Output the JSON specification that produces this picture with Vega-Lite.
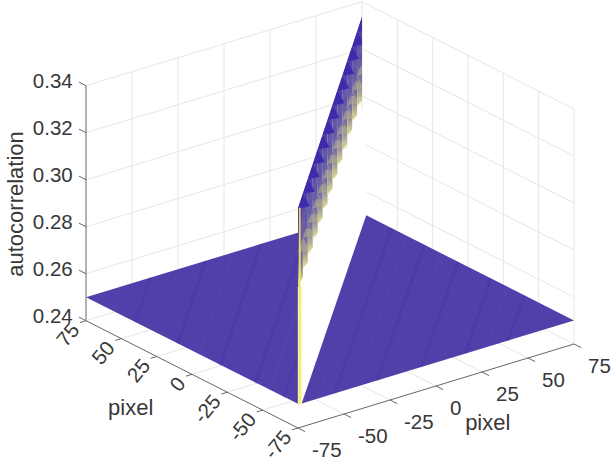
{"$schema":"https://vega.github.io/schema/vega-lite/v6.json","width":613,"height":468,"autosize":{"type":"fit","contains":"padding"},"padding":0,"background":"white","config":{"view":{"stroke":null}},
"data":{"values":[
{"p":"grid","a":75,"b":-50,"z":0.24,"a2":75,"b2":-50,"z2":0.34},{"p":"grid","a":75,"b":-25,"z":0.24,"a2":75,"b2":-25,"z2":0.34},{"p":"grid","a":75,"b":0,"z":0.24,"a2":75,"b2":0,"z2":0.34},{"p":"grid","a":75,"b":25,"z":0.24,"a2":75,"b2":25,"z2":0.34},{"p":"grid","a":75,"b":50,"z":0.24,"a2":75,"b2":50,"z2":0.34},{"p":"grid","a":75,"b":75,"z":0.24,"a2":75,"b2":75,"z2":0.34},
{"p":"grid","a":50,"b":75,"z":0.24,"a2":50,"b2":75,"z2":0.34},{"p":"grid","a":25,"b":75,"z":0.24,"a2":25,"b2":75,"z2":0.34},{"p":"grid","a":0,"b":75,"z":0.24,"a2":0,"b2":75,"z2":0.34},{"p":"grid","a":-25,"b":75,"z":0.24,"a2":-25,"b2":75,"z2":0.34},{"p":"grid","a":-50,"b":75,"z":0.24,"a2":-50,"b2":75,"z2":0.34},{"p":"grid","a":-75,"b":75,"z":0.24,"a2":-75,"b2":75,"z2":0.34},
{"p":"grid","a":75,"b":-75,"z":0.24,"a2":75,"b2":75,"z2":0.24},{"p":"grid","a":75,"b":-75,"z":0.26,"a2":75,"b2":75,"z2":0.26},{"p":"grid","a":75,"b":-75,"z":0.28,"a2":75,"b2":75,"z2":0.28},{"p":"grid","a":75,"b":-75,"z":0.30,"a2":75,"b2":75,"z2":0.30},{"p":"grid","a":75,"b":-75,"z":0.32,"a2":75,"b2":75,"z2":0.32},{"p":"grid","a":75,"b":-75,"z":0.34,"a2":75,"b2":75,"z2":0.34},
{"p":"grid","a":75,"b":75,"z":0.24,"a2":-75,"b2":75,"z2":0.24},{"p":"grid","a":75,"b":75,"z":0.26,"a2":-75,"b2":75,"z2":0.26},{"p":"grid","a":75,"b":75,"z":0.28,"a2":-75,"b2":75,"z2":0.28},{"p":"grid","a":75,"b":75,"z":0.30,"a2":-75,"b2":75,"z2":0.30},{"p":"grid","a":75,"b":75,"z":0.32,"a2":-75,"b2":75,"z2":0.32},{"p":"grid","a":75,"b":75,"z":0.34,"a2":-75,"b2":75,"z2":0.34},
{"p":"grid","a":50,"b":-75,"z":0.24,"a2":50,"b2":75,"z2":0.24},{"p":"grid","a":25,"b":-75,"z":0.24,"a2":25,"b2":75,"z2":0.24},{"p":"grid","a":0,"b":-75,"z":0.24,"a2":0,"b2":75,"z2":0.24},{"p":"grid","a":-25,"b":-75,"z":0.24,"a2":-25,"b2":75,"z2":0.24},{"p":"grid","a":-50,"b":-75,"z":0.24,"a2":-50,"b2":75,"z2":0.24},
{"p":"grid","a":-75,"b":-50,"z":0.24,"a2":75,"b2":-50,"z2":0.24},{"p":"grid","a":-75,"b":-25,"z":0.24,"a2":75,"b2":-25,"z2":0.24},{"p":"grid","a":-75,"b":0,"z":0.24,"a2":75,"b2":0,"z2":0.24},{"p":"grid","a":-75,"b":25,"z":0.24,"a2":75,"b2":25,"z2":0.24},{"p":"grid","a":-75,"b":50,"z":0.24,"a2":75,"b2":50,"z2":0.24},
{"p":"white","g":"w","a":-75,"b":-75,"z":0.30,"a2":-75,"b2":-75,"z2":0.25},{"p":"white","g":"w","a":72,"b":75,"z":0.30,"a2":72,"b2":75,"z2":0.25},
{"p":"surf","g":"L","a":75,"b":-75,"z":0.25,"a2":75,"b2":-75,"z2":0.25},{"p":"surf","g":"L","a":75,"b":41,"z":0.25,"a2":-75,"b2":-75,"z2":0.25},
{"p":"surf","g":"R","a":-75,"b":-73,"z":0.25,"a2":-75,"b2":-73,"z2":0.25},{"p":"surf","g":"R","a":72,"b":75,"z":0.25,"a2":-75,"b2":-37.9,"z2":0.25},{"p":"surf","g":"R","a":-75,"b":75,"z":0.25,"a2":-75,"b2":75,"z2":0.25},
{"p":"sd","a":-65,"b":-75,"z":0.25,"a2":-32,"b2":-42,"z2":0.25},{"p":"sl","a":-55,"b":-75,"z":0.25,"a2":11,"b2":-9,"z2":0.25},{"p":"sd","a":-45,"b":-75,"z":0.25,"a2":54,"b2":24,"z2":0.25},{"p":"sl","a":-33,"b":-75,"z":0.25,"a2":75,"b2":33,"z2":0.25},{"p":"sd","a":-20,"b":-75,"z":0.25,"a2":75,"b2":20,"z2":0.25},{"p":"sl","a":-5,"b":-75,"z":0.25,"a2":75,"b2":5,"z2":0.25},{"p":"sd","a":10,"b":-75,"z":0.25,"a2":75,"b2":-10,"z2":0.25},{"p":"sl","a":25,"b":-75,"z":0.25,"a2":75,"b2":-25,"z2":0.25},{"p":"sd","a":40,"b":-75,"z":0.25,"a2":75,"b2":-40,"z2":0.25},{"p":"sl","a":55,"b":-75,"z":0.25,"a2":75,"b2":-55,"z2":0.25},
{"p":"sl","a":-75,"b":-64,"z":0.25,"a2":63,"b2":75,"z2":0.25},{"p":"sd","a":-75,"b":-55,"z":0.25,"a2":54,"b2":75,"z2":0.25},{"p":"sl","a":-75,"b":-43,"z":0.25,"a2":43,"b2":75,"z2":0.25},{"p":"sd","a":-75,"b":-32,"z":0.25,"a2":31,"b2":75,"z2":0.25},{"p":"sl","a":-75,"b":-20,"z":0.25,"a2":19,"b2":75,"z2":0.25},{"p":"sd","a":-75,"b":-8,"z":0.25,"a2":7,"b2":75,"z2":0.25},{"p":"sl","a":-75,"b":4,"z":0.25,"a2":-4,"b2":75,"z2":0.25},{"p":"sd","a":-75,"b":16,"z":0.25,"a2":-16,"b2":75,"z2":0.25},{"p":"sl","a":-75,"b":28,"z":0.25,"a2":-28,"b2":75,"z2":0.25},{"p":"sd","a":-75,"b":39,"z":0.25,"a2":-40,"b2":75,"z2":0.25},{"p":"sl","a":-75,"b":51,"z":0.25,"a2":-51,"b2":75,"z2":0.25},
{"p":"tooth","g":"t0","a":-75,"b":-75,"z":0.3335,"z2":0.3000,"a2":-75,"b2":-75},{"p":"tooth","g":"t0","a":-63.5,"b":-63.5,"z":0.3335,"z2":0.298,"a2":-63.5,"b2":-63.5},
{"p":"tooth","g":"t1","a":-63.5,"b":-63.5,"z":0.3335,"z2":0.3015,"a2":-63.5,"b2":-63.5},{"p":"tooth","g":"t1","a":-52,"b":-52,"z":0.3335,"z2":0.298,"a2":-52,"b2":-52},
{"p":"tooth","g":"t2","a":-52,"b":-52,"z":0.3335,"z2":0.3015,"a2":-52,"b2":-52},{"p":"tooth","g":"t2","a":-40.4,"b":-40.4,"z":0.3335,"z2":0.298,"a2":-40.4,"b2":-40.4},
{"p":"tooth","g":"t3","a":-40.4,"b":-40.4,"z":0.3335,"z2":0.3015,"a2":-40.4,"b2":-40.4},{"p":"tooth","g":"t3","a":-28.8,"b":-28.8,"z":0.3335,"z2":0.298,"a2":-28.8,"b2":-28.8},
{"p":"tooth","g":"t4","a":-28.8,"b":-28.8,"z":0.3335,"z2":0.3015,"a2":-28.8,"b2":-28.8},{"p":"tooth","g":"t4","a":-17.3,"b":-17.3,"z":0.3335,"z2":0.298,"a2":-17.3,"b2":-17.3},
{"p":"tooth","g":"t5","a":-17.3,"b":-17.3,"z":0.3335,"z2":0.3015,"a2":-17.3,"b2":-17.3},{"p":"tooth","g":"t5","a":-5.8,"b":-5.8,"z":0.3335,"z2":0.298,"a2":-5.8,"b2":-5.8},
{"p":"tooth","g":"t6","a":-5.8,"b":-5.8,"z":0.3335,"z2":0.3015,"a2":-5.8,"b2":-5.8},{"p":"tooth","g":"t6","a":5.8,"b":5.8,"z":0.3335,"z2":0.298,"a2":5.8,"b2":5.8},
{"p":"tooth","g":"t7","a":5.8,"b":5.8,"z":0.3335,"z2":0.3015,"a2":5.8,"b2":5.8},{"p":"tooth","g":"t7","a":17.3,"b":17.3,"z":0.3335,"z2":0.298,"a2":17.3,"b2":17.3},
{"p":"tooth","g":"t8","a":17.3,"b":17.3,"z":0.3335,"z2":0.3015,"a2":17.3,"b2":17.3},{"p":"tooth","g":"t8","a":28.8,"b":28.8,"z":0.3335,"z2":0.298,"a2":28.8,"b2":28.8},
{"p":"tooth","g":"t9","a":28.8,"b":28.8,"z":0.3335,"z2":0.3015,"a2":28.8,"b2":28.8},{"p":"tooth","g":"t9","a":40.4,"b":40.4,"z":0.3335,"z2":0.298,"a2":40.4,"b2":40.4},
{"p":"tooth","g":"t10","a":40.4,"b":40.4,"z":0.3335,"z2":0.3015,"a2":40.4,"b2":40.4},{"p":"tooth","g":"t10","a":51.9,"b":51.9,"z":0.3335,"z2":0.298,"a2":51.9,"b2":51.9},
{"p":"tooth","g":"t11","a":51.9,"b":51.9,"z":0.3335,"z2":0.3015,"a2":51.9,"b2":51.9},{"p":"tooth","g":"t11","a":63.5,"b":63.5,"z":0.3335,"z2":0.298,"a2":63.5,"b2":63.5},
{"p":"tooth","g":"t12","a":63.5,"b":63.5,"z":0.3335,"z2":0.3015,"a2":63.5,"b2":63.5},{"p":"tooth","g":"t12","a":75,"b":75,"z":0.3335,"z2":0.298,"a2":75,"b2":75},
{"p":"dark","g":"d0","a":-75,"b":-75,"z":0.3335,"z2":0.3335,"a2":-75,"b2":-75},{"p":"dark","g":"d0","a":-63.5,"b":-63.5,"z":0.3335,"z2":0.3276,"a2":-63.5,"b2":-63.5},{"p":"dark","g":"d0","a":-47,"b":-47,"z":0.3192,"z2":0.3192,"a2":-47,"b2":-47},
{"p":"dark","g":"d1","a":-63.5,"b":-63.5,"z":0.3335,"z2":0.3335,"a2":-63.5,"b2":-63.5},{"p":"dark","g":"d1","a":-52,"b":-52,"z":0.3335,"z2":0.3276,"a2":-52,"b2":-52},{"p":"dark","g":"d1","a":-35.5,"b":-35.5,"z":0.3192,"z2":0.3192,"a2":-35.5,"b2":-35.5},
{"p":"dark","g":"d2","a":-52,"b":-52,"z":0.3335,"z2":0.3335,"a2":-52,"b2":-52},{"p":"dark","g":"d2","a":-40.4,"b":-40.4,"z":0.3335,"z2":0.3276,"a2":-40.4,"b2":-40.4},{"p":"dark","g":"d2","a":-24,"b":-24,"z":0.3192,"z2":0.3192,"a2":-24,"b2":-24},
{"p":"dark","g":"d3","a":-40.4,"b":-40.4,"z":0.3335,"z2":0.3335,"a2":-40.4,"b2":-40.4},{"p":"dark","g":"d3","a":-28.8,"b":-28.8,"z":0.3335,"z2":0.3276,"a2":-28.8,"b2":-28.8},{"p":"dark","g":"d3","a":-12.4,"b":-12.4,"z":0.3192,"z2":0.3192,"a2":-12.4,"b2":-12.4},
{"p":"dark","g":"d4","a":-28.8,"b":-28.8,"z":0.3335,"z2":0.3335,"a2":-28.8,"b2":-28.8},{"p":"dark","g":"d4","a":-17.3,"b":-17.3,"z":0.3335,"z2":0.3276,"a2":-17.3,"b2":-17.3},{"p":"dark","g":"d4","a":-0.8,"b":-0.8,"z":0.3192,"z2":0.3192,"a2":-0.8,"b2":-0.8},
{"p":"dark","g":"d5","a":-17.3,"b":-17.3,"z":0.3335,"z2":0.3335,"a2":-17.3,"b2":-17.3},{"p":"dark","g":"d5","a":-5.8,"b":-5.8,"z":0.3335,"z2":0.3276,"a2":-5.8,"b2":-5.8},{"p":"dark","g":"d5","a":10.7,"b":10.7,"z":0.3192,"z2":0.3192,"a2":10.7,"b2":10.7},
{"p":"dark","g":"d6","a":-5.8,"b":-5.8,"z":0.3335,"z2":0.3335,"a2":-5.8,"b2":-5.8},{"p":"dark","g":"d6","a":5.8,"b":5.8,"z":0.3335,"z2":0.3276,"a2":5.8,"b2":5.8},{"p":"dark","g":"d6","a":22.2,"b":22.2,"z":0.3192,"z2":0.3192,"a2":22.2,"b2":22.2},
{"p":"dark","g":"d7","a":5.8,"b":5.8,"z":0.3335,"z2":0.3335,"a2":5.8,"b2":5.8},{"p":"dark","g":"d7","a":17.3,"b":17.3,"z":0.3335,"z2":0.3276,"a2":17.3,"b2":17.3},{"p":"dark","g":"d7","a":33.8,"b":33.8,"z":0.3192,"z2":0.3192,"a2":33.8,"b2":33.8},
{"p":"dark","g":"d8","a":17.3,"b":17.3,"z":0.3335,"z2":0.3335,"a2":17.3,"b2":17.3},{"p":"dark","g":"d8","a":28.8,"b":28.8,"z":0.3335,"z2":0.3276,"a2":28.8,"b2":28.8},{"p":"dark","g":"d8","a":45.3,"b":45.3,"z":0.3192,"z2":0.3192,"a2":45.3,"b2":45.3},
{"p":"dark","g":"d9","a":28.8,"b":28.8,"z":0.3335,"z2":0.3335,"a2":28.8,"b2":28.8},{"p":"dark","g":"d9","a":40.4,"b":40.4,"z":0.3335,"z2":0.3276,"a2":40.4,"b2":40.4},{"p":"dark","g":"d9","a":56.8,"b":56.8,"z":0.3192,"z2":0.3192,"a2":56.8,"b2":56.8},
{"p":"dark","g":"d10","a":40.4,"b":40.4,"z":0.3335,"z2":0.3335,"a2":40.4,"b2":40.4},{"p":"dark","g":"d10","a":51.9,"b":51.9,"z":0.3335,"z2":0.3276,"a2":51.9,"b2":51.9},{"p":"dark","g":"d10","a":68.4,"b":68.4,"z":0.3192,"z2":0.3192,"a2":68.4,"b2":68.4},
{"p":"dark","g":"d11","a":51.9,"b":51.9,"z":0.3335,"z2":0.3335,"a2":51.9,"b2":51.9},{"p":"dark","g":"d11","a":63.5,"b":63.5,"z":0.3335,"z2":0.3276,"a2":63.5,"b2":63.5},{"p":"dark","g":"d11","a":75,"b":75,"z":0.3235,"z2":0.3217,"a2":75,"b2":75},
{"p":"dark","g":"d12","a":63.5,"b":63.5,"z":0.3335,"z2":0.3335,"a2":63.5,"b2":63.5},{"p":"dark","g":"d12","a":75,"b":75,"z":0.3335,"z2":0.3276,"a2":75,"b2":75},
{"p":"pale","a":-75,"b":-74,"z":0.25,"a2":-75,"b2":-74,"z2":0.30},
{"p":"yellow","a":-75,"b":-74,"z":0.25,"a2":-75,"b2":-74,"z2":0.3335},
{"p":"axis","a":75,"b":-75,"z":0.24,"a2":75,"b2":-75,"z2":0.34},{"p":"axis","a":75,"b":-75,"z":0.24,"a2":-75,"b2":-75,"z2":0.24},{"p":"axis","a":-75,"b":-75,"z":0.24,"a2":-75,"b2":75,"z2":0.24},
{"p":"axis","a":75,"b":-75,"z":0.24,"a2":80,"b2":-75,"z2":0.24},{"p":"axis","a":75,"b":-75,"z":0.26,"a2":80,"b2":-75,"z2":0.26},{"p":"axis","a":75,"b":-75,"z":0.28,"a2":80,"b2":-75,"z2":0.28},{"p":"axis","a":75,"b":-75,"z":0.30,"a2":80,"b2":-75,"z2":0.30},{"p":"axis","a":75,"b":-75,"z":0.32,"a2":80,"b2":-75,"z2":0.32},{"p":"axis","a":75,"b":-75,"z":0.34,"a2":80,"b2":-75,"z2":0.34},
{"p":"axis","a":75,"b":-75,"z":0.24,"a2":75,"b2":-78.3,"z2":0.24},{"p":"axis","a":50,"b":-75,"z":0.24,"a2":50,"b2":-78.3,"z2":0.24},{"p":"axis","a":25,"b":-75,"z":0.24,"a2":25,"b2":-78.3,"z2":0.24},{"p":"axis","a":0,"b":-75,"z":0.24,"a2":0,"b2":-78.3,"z2":0.24},{"p":"axis","a":-25,"b":-75,"z":0.24,"a2":-25,"b2":-78.3,"z2":0.24},{"p":"axis","a":-50,"b":-75,"z":0.24,"a2":-50,"b2":-78.3,"z2":0.24},{"p":"axis","a":-75,"b":-75,"z":0.24,"a2":-75,"b2":-78.3,"z2":0.24},
{"p":"axis","a":-75,"b":-75,"z":0.24,"a2":-80,"b2":-75,"z2":0.24},{"p":"axis","a":-75,"b":-50,"z":0.24,"a2":-80,"b2":-50,"z2":0.24},{"p":"axis","a":-75,"b":-25,"z":0.24,"a2":-80,"b2":-25,"z2":0.24},{"p":"axis","a":-75,"b":0,"z":0.24,"a2":-80,"b2":0,"z2":0.24},{"p":"axis","a":-75,"b":25,"z":0.24,"a2":-80,"b2":25,"z2":0.24},{"p":"axis","a":-75,"b":50,"z":0.24,"a2":-80,"b2":50,"z2":0.24},{"p":"axis","a":-75,"b":75,"z":0.24,"a2":-80,"b2":75,"z2":0.24},
{"p":"zlab","a":75,"b":-75,"z":0.24,"label":"0.24"},{"p":"zlab","a":75,"b":-75,"z":0.26,"label":"0.26"},{"p":"zlab","a":75,"b":-75,"z":0.28,"label":"0.28"},{"p":"zlab","a":75,"b":-75,"z":0.30,"label":"0.30"},{"p":"zlab","a":75,"b":-75,"z":0.32,"label":"0.32"},{"p":"zlab","a":75,"b":-75,"z":0.34,"label":"0.34"},
{"p":"alab","a":75,"b":-75,"z":0.24,"label":"75"},{"p":"alab","a":50,"b":-75,"z":0.24,"label":"50"},{"p":"alab","a":25,"b":-75,"z":0.24,"label":"25"},{"p":"alab","a":0,"b":-75,"z":0.24,"label":"0"},{"p":"alab","a":-25,"b":-75,"z":0.24,"label":"-25"},{"p":"alab","a":-50,"b":-75,"z":0.24,"label":"-50"},{"p":"alab","a":-75,"b":-75,"z":0.24,"label":"-75"},
{"p":"blab","a":-75,"b":-75,"z":0.24,"label":"-75"},{"p":"blab","a":-75,"b":-50,"z":0.24,"label":"-50"},{"p":"blab","a":-75,"b":-25,"z":0.24,"label":"-25"},{"p":"blab","a":-75,"b":0,"z":0.24,"label":"0"},{"p":"blab","a":-75,"b":25,"z":0.24,"label":"25"},{"p":"blab","a":-75,"b":50,"z":0.24,"label":"50"},{"p":"blab","a":-75,"b":75,"z":0.24,"label":"75"},
{"p":"title","a":-13.1,"b":-118.4,"z":0.24,"label":"pixel"},{"p":"title","a":-121,"b":-7.2,"z":0.24,"label":"pixel"},
{"p":"ztitle","a":124.5,"b":-75,"z":0.2746,"label":"autocorrelation"}
]},
"transform":[
{"calculate":"298-1.4133*(datum.a+75)+1.84*(datum.b+75)","as":"px"},
{"calculate":"428-0.7153*(datum.a+75)-0.56*(datum.b+75)-2350*(datum.z-0.24)","as":"py"},
{"calculate":"298-1.4133*(datum.a2+75)+1.84*(datum.b2+75)","as":"px2"},
{"calculate":"428-0.7153*(datum.a2+75)-0.56*(datum.b2+75)-2350*(datum.z2-0.24)","as":"py2"}
],
"encoding":{
"x":{"field":"px","type":"quantitative","scale":{"domain":[0,613],"nice":false,"zero":false},"axis":null},
"y":{"field":"py","type":"quantitative","scale":{"domain":[468,0],"nice":false,"zero":false},"axis":null}
},
"layer":[
{"transform":[{"filter":"datum.p==='grid'"}],"mark":{"type":"rule","color":"#e6e6e6","strokeWidth":1},"encoding":{"x2":{"field":"px2"},"y2":{"field":"py2"}}},
{"transform":[{"filter":"datum.p==='white'"}],"mark":{"type":"area","color":"#ffffff","orient":"vertical"},"encoding":{"y2":{"field":"py2"},"detail":{"field":"g"}}},
{"transform":[{"filter":"datum.p==='surf'"}],"mark":{"type":"area","color":"#5040aa","orient":"vertical"},"encoding":{"y2":{"field":"py2"},"detail":{"field":"g"}}},
{"transform":[{"filter":"datum.p==='sd'"}],"mark":{"type":"rule","color":"#38269f","strokeWidth":3,"opacity":0.2},"encoding":{"x2":{"field":"px2"},"y2":{"field":"py2"}}},
{"transform":[{"filter":"datum.p==='sl'"}],"mark":{"type":"rule","color":"#6e60bc","strokeWidth":3,"opacity":0.1},"encoding":{"x2":{"field":"px2"},"y2":{"field":"py2"}}},
{"transform":[{"filter":"datum.p==='tooth'"}],"mark":{"type":"area","orient":"vertical","color":{"gradient":"linear","x1":0,"y1":0,"x2":0,"y2":1,"stops":[{"offset":0,"color":"#4535a8"},{"offset":0.5,"color":"#6558a8"},{"offset":0.75,"color":"#8078a0"},{"offset":0.88,"color":"#b8b490"},{"offset":1,"color":"#efeea0"}]}},"encoding":{"y2":{"field":"py2"},"detail":{"field":"g"}}},
{"transform":[{"filter":"datum.p==='dark'"}],"mark":{"type":"area","color":"#b8b48c","orient":"vertical","opacity":0.55,"yOffset":44,"y2Offset":44},"encoding":{"y2":{"field":"py2"},"detail":{"field":"g"}}},
{"transform":[{"filter":"datum.p==='dark'"}],"mark":{"type":"area","color":"#6a60a8","orient":"vertical","opacity":0.7,"yOffset":22,"y2Offset":22},"encoding":{"y2":{"field":"py2"},"detail":{"field":"g"}}},
{"transform":[{"filter":"datum.p==='dark'"}],"mark":{"type":"area","color":"#3c2bab","orient":"vertical"},"encoding":{"y2":{"field":"py2"},"detail":{"field":"g"}}},
{"transform":[{"filter":"datum.p==='pale'"}],"mark":{"type":"rule","color":"#f8f6b0","strokeWidth":4},"encoding":{"x2":{"field":"px2"},"y2":{"field":"py2"}}},
{"transform":[{"filter":"datum.p==='yellow'"}],"mark":{"type":"rule","color":"#f5ec4a","strokeWidth":1.5},"encoding":{"x2":{"field":"px2"},"y2":{"field":"py2"}}},
{"transform":[{"filter":"datum.p==='axis'"}],"mark":{"type":"rule","color":"#666666","strokeWidth":1},"encoding":{"x2":{"field":"px2"},"y2":{"field":"py2"}}},
{"transform":[{"filter":"datum.p==='zlab'"}],"mark":{"type":"text","font":"Liberation Sans","fontSize":20.5,"color":"#383838","align":"right","baseline":"middle","xOffset":-13.3,"yOffset":-4},"encoding":{"text":{"field":"label"}}},
{"transform":[{"filter":"datum.p==='alab'"}],"mark":{"type":"text","font":"Liberation Sans","fontSize":20.5,"color":"#383838","align":"right","baseline":"middle","angle":310,"xOffset":-10,"yOffset":6},"encoding":{"text":{"field":"label"}}},
{"transform":[{"filter":"datum.p==='blab'"}],"mark":{"type":"text","font":"Liberation Sans","fontSize":20.5,"color":"#383838","align":"left","baseline":"middle","xOffset":14,"yOffset":23},"encoding":{"text":{"field":"label"}}},
{"transform":[{"filter":"datum.p==='title'"}],"mark":{"type":"text","font":"Liberation Sans","fontSize":22,"color":"#383838","align":"center","baseline":"middle"},"encoding":{"text":{"field":"label"}}},
{"transform":[{"filter":"datum.p==='ztitle'"}],"mark":{"type":"text","font":"Liberation Sans","fontSize":22,"color":"#383838","align":"center","baseline":"middle","angle":270},"encoding":{"text":{"field":"label"}}}
]}
